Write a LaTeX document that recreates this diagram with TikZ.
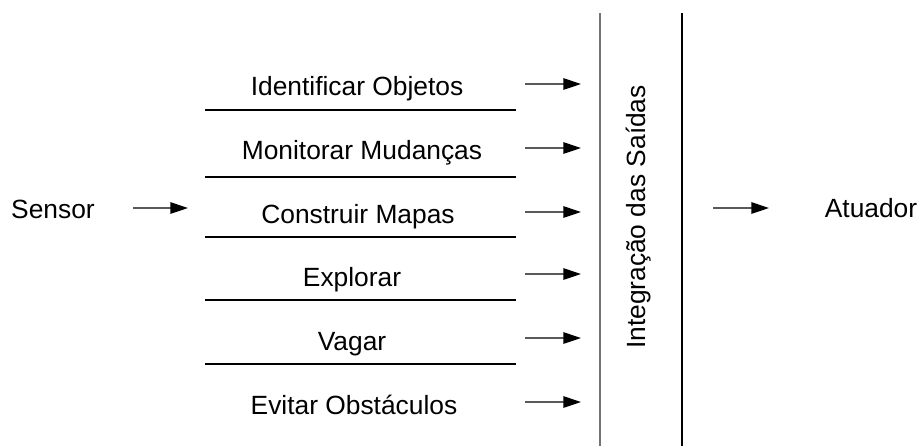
\documentclass[tikz,border=0pt]{standalone}
\usepackage{fontspec}
\setmainfont{Liberation Sans}
\usetikzlibrary{arrows.meta}
\tikzstyle{arrow} = [draw=black!65, line width=0.7pt, -{Triangle[length=10pt,width=6.5pt,color=black]}]
\tikzstyle{rotulo} = [font=\fontsize{15}{18}\selectfont, inner sep=0pt, anchor=base]

\begin{document}
\begin{tikzpicture}[x=0.2mm, y=-0.2mm]
    \useasboundingbox (0,0) rectangle (920,446);
    % Nodes
    \node[rotulo] (sensor) at (53,218) {Sensor};
    \node[rotulo] (objetos) at (357,95) {Identificar Objetos};
    \node[rotulo] (mudancas) at (362,159) {Monitorar Mudanças};
    \node[rotulo] (mapas) at (358,223) {Construir Mapas};
    \node[rotulo] (explorar) at (352,286) {Explorar};
    \node[rotulo] (vagar) at (352,350) {Vagar};
    \node[rotulo] (evitar) at (354,414) {Evitar Obstáculos};
    \node[rotulo, rotate=90] (integracao) at (645,217) {Integração das Saídas};
    \node[rotulo] (atuador) at (871,217) {Atuador};

    % Layers
    \draw[line width=0.7pt] (205,110) -- (516,110);
    \draw[line width=0.7pt] (205,177) -- (516,177);
    \draw[line width=0.7pt] (205,237) -- (516,237);
    \draw[line width=0.7pt] (205,300) -- (516,300);
    \draw[line width=0.7pt] (205,364) -- (516,364);
    \draw[black!55, line width=1pt] (600,13) -- (600,446);
    \draw[line width=0.8pt] (682,13) -- (682,446);

    % Edges
    \coordinate (s1) at (133,208);
    \coordinate (s2) at (188,208);
    \draw[arrow] (s1) -- (s2);
    \foreach \y/\n in {84/a,148/b,212/c,274/d,338/e,402/f} {
        \coordinate (\n1) at (525,\y);
        \coordinate (\n2) at (581,\y);
        \draw[arrow] (\n1) -- (\n2);
    }
    \coordinate (t1) at (713,208);
    \coordinate (t2) at (769,208);
    \draw[arrow] (t1) -- (t2);
\end{tikzpicture}
\end{document}
